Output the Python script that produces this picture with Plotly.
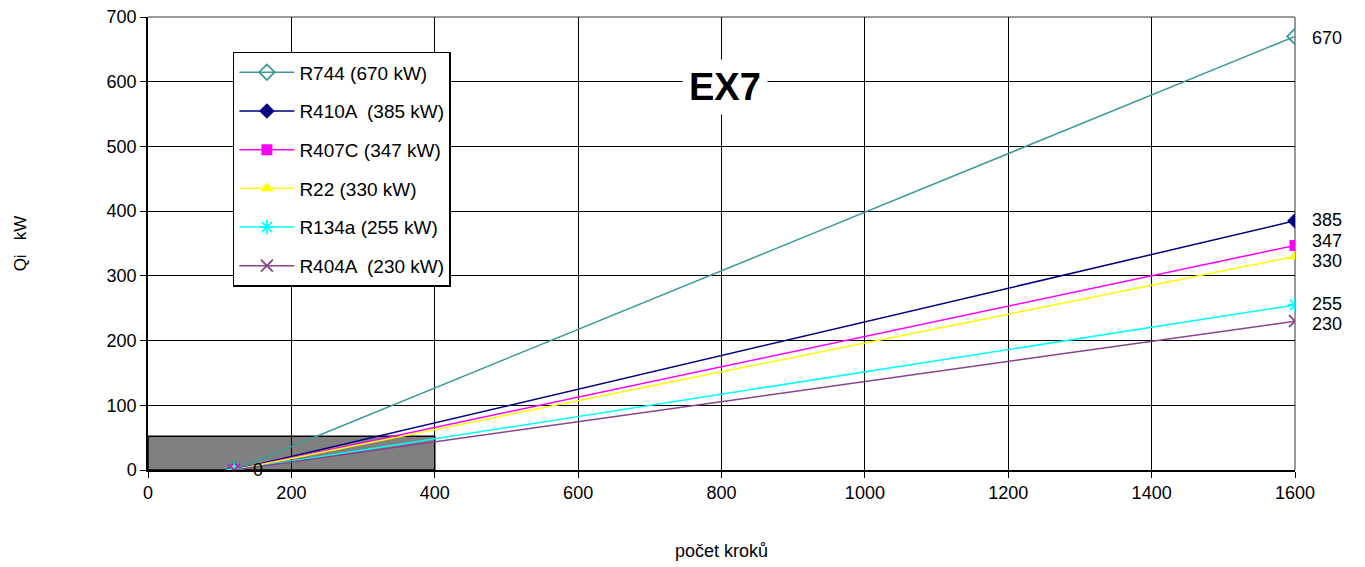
import plotly.graph_objects as go

# data
series_names = ["R744 (670 kW)", "R410A  (385 kW)", "R407C (347 kW)", "R22 (330 kW)", "R134a (255 kW)", "R404A  (230 kW)"]
steps = [120, 1600]
end_values = [670, 385, 347, 330, 255, 230]
start_values = [0, 0, 0, 0, 0, 0]
colors = ["#3A9A9A", "#000080", "#FF00FF", "#FFFF00", "#00FFFF", "#884488"]
symbols = ["diamond-open", "diamond", "square", "triangle-up", "asterisk-open", "x-thin-open"]
label_yshift = [-2, 1, 4, -5, 1, -3]
x_ticks = [0, 200, 400, 600, 800, 1000, 1200, 1400, 1600]
y_ticks = [0, 100, 200, 300, 400, 500, 600, 700]
box_x = [0, 400]
box_y = [0, 52]

fig = go.Figure()
for i, name in enumerate(series_names):
    sym = symbols[i]
    mline = dict(color=colors[i], width=1.8 if "open" in sym else 0)
    fig.add_trace(go.Scatter(
        x=steps, y=[start_values[i], end_values[i]], name=name,
        mode="lines+markers", legendgroup=str(i),
        line=dict(color=colors[i], width=1.5),
        marker=dict(symbol=sym, size=12 if sym != "square" else 11, color=colors[i], line=mline),
    ))

# "0" label at start
fig.add_annotation(x=steps[0], y=start_values[0], text="0", showarrow=False, xanchor="left",
                   xshift=17, font=dict(family="Arial", size=18, color="black"))
for i, v in enumerate(end_values):
    fig.add_annotation(x=steps[1], y=v, text=str(v), showarrow=False, xanchor="left",
                       xshift=15, yshift=label_yshift[i],
                       font=dict(family="Arial", size=18, color="black"))

fig.add_annotation(x=805, y=592, text="<b>EX7</b>", showarrow=False, bgcolor="white",
                   font=dict(family="Arial", size=38, color="black"), borderpad=6)

fig.add_shape(type="rect", x0=box_x[0], x1=box_x[1], y0=box_y[0], y1=box_y[1],
              fillcolor="#808080", line=dict(color="black", width=1.5), layer="below")
fig.add_shape(type="line", xref="paper", yref="paper", x0=0, x1=1, y0=1, y1=1,
              line=dict(color="#999999", width=2), layer="between")
fig.add_shape(type="line", xref="paper", yref="paper", x0=1, x1=1, y0=0, y1=1,
              line=dict(color="#999999", width=2), layer="between")

axis_common = dict(showgrid=True, gridcolor="black", gridwidth=1, zeroline=False,
                   showline=True, linecolor="black", linewidth=1.5, automargin=False,
                   ticks="outside", ticklen=6, tickcolor="black",
                   tickfont=dict(family="Arial", size=18, color="black"))
fig.update_xaxes(range=[0, 1600], tickvals=x_ticks, **axis_common,
                 title=dict(text="počet kroků", font=dict(family="Arial", size=18, color="black"), standoff=42))
fig.update_yaxes(range=[0, 700], tickvals=y_ticks, **axis_common,
                 title=dict(text="Qi   kW", font=dict(family="Arial", size=17, color="black"), standoff=76))

fig.update_layout(
    width=1365, height=567,
    margin=dict(l=148, r=70, t=17, b=97, autoexpand=False),
    plot_bgcolor="white", paper_bgcolor="white",
    showlegend=True,
    legend=dict(x=0.074, y=0.923, xanchor="left", yanchor="top",
                bgcolor="white", bordercolor="black", borderwidth=1.5,
                font=dict(family="Arial", size=19, color="black"),
                traceorder="grouped", tracegroupgap=11, itemwidth=55),
)

fig.write_html("out.html")
